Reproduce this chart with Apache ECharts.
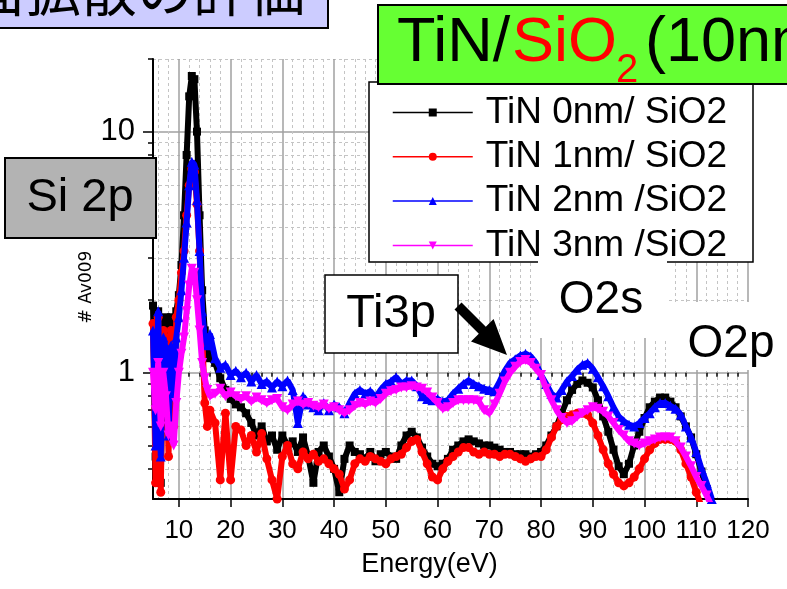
<!DOCTYPE html>
<html><head><meta charset="utf-8">
<script src="https://cdn.jsdelivr.net/npm/echarts@6/dist/echarts.min.js"></script>
<style>html,body{margin:0;padding:0;background:#fff}#c{width:787px;height:589px}</style>
</head><body><div id="c"></div><script>
// Energy (eV) sample positions
const energy = [5,5.5,6,6.5,7,7.5,8,8.5,9,9.5,10,10.5,11,11.5,12,12.5,13,13.5,14,14.5,15,15.5,16,
17,18,19,20,21,22,23,24,25,26,27,28,29,30,31,32,33,34,35,36,37,38,39,40,41,42,43,44,45,46,
47,48,49,50,51,52,53,54,55,56,57,58,59,60,61,62,63,64,65,66,67,68,69,70,71,72,73,74,75,76,
77,78,79,80,81,82,83,84,85,86,87,88,89,90,91,92,93,94,95,96,97,98,99,100,101,102,103,104,105,106,
107,108,109,110,111,112,113];

const tin0 = [1.9,0.45,1.8,0.35,1.6,1.7,1.2,1.7,1.5,1.8,2.1,2.8,4.5,8,14,17,16.5,10,4.5,2.2,1.5,1.25,1.15,
1.1,0.95,0.85,0.78,0.74,0.72,0.68,0.62,0.55,0.6,
0.52,0.55,0.48,0.55,0.5,0.52,0.47,0.54,0.45,0.35,
0.47,0.5,0.45,0.4,0.32,0.44,0.5,0.47,0.46,0.44,
0.47,0.43,0.46,0.47,0.45,0.44,0.5,0.55,0.57,0.54,
0.49,0.45,0.42,0.41,0.42,0.44,0.48,0.5,0.52,0.53,
0.52,0.51,0.5,0.5,0.49,0.48,0.47,0.47,0.46,0.46,
0.46,0.45,0.46,0.47,0.5,0.55,0.6,0.68,0.77,0.85,
0.9,0.93,0.91,0.87,0.77,0.66,0.57,0.48,0.41,0.38,
0.42,0.5,0.57,0.65,0.72,0.76,0.79,0.79,0.76,0.72,
0.66,0.6,0.54,0.46,0.39,0.33,0.28];

const tin1 = [1.6,0.35,1.7,0.32,1.5,1.4,0.45,1.5,0.6,1.7,2.0,2.6,3.2,4.5,6,7,6.8,5,3.2,1.5,0.75,0.6,0.7,
0.62,0.36,0.68,0.36,0.6,0.58,0.5,0.55,0.47,0.56,
0.44,0.36,0.3,0.45,0.5,0.42,0.4,0.47,0.44,0.46,
0.43,0.44,0.42,0.4,0.38,0.33,0.36,0.42,0.44,0.43,
0.45,0.44,0.43,0.42,0.44,0.45,0.46,0.49,0.52,0.53,
0.47,0.42,0.37,0.36,0.4,0.43,0.45,0.47,0.49,0.49,
0.47,0.46,0.47,0.46,0.46,0.45,0.46,0.46,0.45,0.44,
0.43,0.44,0.45,0.45,0.48,0.54,0.6,0.64,0.66,0.67,
0.68,0.68,0.67,0.62,0.55,0.48,0.42,0.38,0.35,0.34,
0.35,0.37,0.4,0.44,0.48,0.51,0.53,0.53,0.53,0.52,
0.48,0.42,0.37,0.32,0.28,null,null];

const tin2 = [1.5,0.5,1.8,0.45,1.4,1.25,0.55,1.3,0.8,1.4,1.7,2.2,3,4.2,6,7.5,7.3,5.2,3.2,1.8,1.4,1.3,1.45,
1.15,1.05,1.08,0.98,1.02,0.96,1.0,0.92,0.98,0.9,
0.92,0.87,0.92,0.88,0.93,0.85,0.62,0.8,0.74,0.72,
0.7,0.75,0.7,0.74,0.72,0.68,0.75,0.82,0.85,0.82,
0.84,0.79,0.85,0.9,0.92,0.96,0.9,0.93,0.93,0.88,
0.8,0.78,0.77,0.78,0.76,0.77,0.82,0.86,0.9,0.93,
0.9,0.88,0.86,0.85,0.84,0.92,1.02,1.1,1.14,1.18,
1.2,1.17,1.1,0.98,0.9,0.82,0.79,0.85,0.92,0.97,
1.03,1.08,1.1,1.04,0.96,0.88,0.8,0.72,0.66,0.63,
0.61,0.6,0.62,0.65,0.68,0.72,0.75,0.75,0.73,0.71,
0.67,0.6,0.54,0.47,0.4,0.35,0.3];

const tin3 = [1.0,0.7,1.1,0.6,1.0,0.8,0.55,0.6,0.5,0.75,1.0,1.2,1.4,1.8,2.3,2.7,2.6,2.0,1.5,1.1,0.95,0.85,0.8,
0.82,0.86,0.8,0.83,0.8,0.78,0.8,0.76,0.79,0.77,
0.75,0.77,0.78,0.72,0.7,0.74,0.76,0.74,0.75,0.73,
0.72,0.74,0.71,0.72,0.7,0.68,0.7,0.73,0.75,0.74,
0.76,0.75,0.78,0.82,0.84,0.85,0.87,0.87,0.88,0.87,
0.86,0.83,0.79,0.75,0.71,0.72,0.75,0.77,0.77,0.77,
0.77,0.76,0.7,0.68,0.74,0.82,0.92,1.0,1.06,1.11,
1.13,1.1,1.04,0.98,0.86,0.77,0.7,0.65,0.62,0.63,
0.66,0.68,0.7,0.72,0.71,0.69,0.66,0.62,0.58,0.55,
0.52,0.51,0.5,0.51,0.52,0.53,0.54,0.54,0.54,0.52,
0.49,0.45,0.41,0.37,0.34,0.31,0.28];

const seriesNames = ['TiN 0nm/ SiO2','TiN 1nm/ SiO2','TiN 2nm /SiO2','TiN 3nm /SiO2'];
const xMajorTicks = [10,20,30,40,50,60,70,80,90,100,110,120];
const xMinorTicks = [6,8,12,14,16,18,22,24,26,28,32,34,36,38,42,44,46,48,52,54,56,58,62,64,66,68,
72,74,76,78,82,84,86,88,92,94,96,98,102,104,106,108,112,114,116,118];
const yMajorTicks = [1,10];
const yMinorTicks = [0.4,0.5,0.6,0.7,0.8,0.9,2,3,4,5,6,7,8,9,20];
const yMin = 0.3, yMax = 20, xMin = 5, xMax = 120;

function pairs(vals){ const out=[]; vals.forEach((v,i)=>{ if(v!=null) out.push([energy[i],v]); }); return out; }

const chart = echarts.init(document.getElementById('c'), null, {renderer:'canvas'});
const FONT = 'Liberation Sans, Arial, sans-serif';
const lmin = Math.log10(yMin), lmax = Math.log10(yMax);

const styles = [
  {color:'#000000', symbol:'rect', size:8, rot:0},
  {color:'#ff0000', symbol:'circle', size:9, rot:0},
  {color:'#0000ff', symbol:'triangle', size:10, rot:0},
  {color:'#ff00ff', symbol:'triangle', size:10, rot:180}
];
const dataSets = [tin0, tin1, tin2, tin3];

const option = {
  animation:false,
  backgroundColor:'#ffffff',
  textStyle:{fontFamily:FONT},
  grid:{left:153, right:39, top:59, bottom:90, containLabel:false, outerBoundsMode:'none'},
  xAxis:[
    {type:'value', min:xMin, max:xMax, position:'bottom',
     name:'Energy(eV)', nameLocation:'middle', nameGap:52,
     nameTextStyle:{fontSize:27, color:'#000', fontFamily:FONT, padding:[0,42,0,0]},
     axisLine:{show:true, onZero:false, lineStyle:{color:'#000', width:2}},
     axisTick:{show:true, inside:false, length:8, customValues:xMajorTicks, lineStyle:{color:'#000', width:1.5}},
     axisLabel:{show:true, customValues:xMajorTicks, fontSize:26, color:'#000', margin:19, fontFamily:FONT},
     splitLine:{show:true, lineStyle:{color:'#a0a0a0', width:1.5}}},
    {type:'value', min:xMin, max:xMax, position:'bottom', offset:0,
     axisLine:{show:false},
     axisTick:{show:true, inside:false, length:4, customValues:xMinorTicks, lineStyle:{color:'#000', width:1.5}},
     axisLabel:{show:false},
     splitLine:{show:true, lineStyle:{color:'#c4c4c4', width:1, type:[3,3]}}}
  ],
  yAxis:[
    {type:'log', logBase:10, min:yMin, max:yMax, position:'left',
     name:'# Av009', nameLocation:'middle', nameRotate:90, nameGap:58,
     nameTextStyle:{fontSize:17, color:'#000', fontFamily:'DejaVu Sans, sans-serif', padding:[0,16,0,0]},
     axisLine:{show:true, onZero:false, lineStyle:{color:'#000', width:2}},
     axisTick:{show:false}, axisLabel:{show:false}, splitLine:{show:false}, minorTick:{show:false}},
    {type:'value', min:lmin, max:lmax, position:'left', offset:0,
     axisLine:{show:false},
     axisTick:{show:true, inside:false, length:10, customValues:yMajorTicks.map(Math.log10), lineStyle:{color:'#000', width:1.5}},
     axisLabel:{show:true, customValues:yMajorTicks.map(Math.log10), fontSize:31, color:'#000', margin:18, fontFamily:FONT,
       formatter:function(v){ return String(Math.round(Math.pow(10, v))); }},
     splitLine:{show:true, lineStyle:{color:'#a0a0a0', width:1.5}}},
    {type:'value', min:lmin, max:lmax, position:'left', offset:0,
     axisLine:{show:false},
     axisTick:{show:true, inside:false, length:5, customValues:yMinorTicks.map(Math.log10), lineStyle:{color:'#000', width:1.5}},
     axisLabel:{show:false},
     splitLine:{show:true, lineStyle:{color:'#c4c4c4', width:1, type:[3,3]}}}
  ],
  legend:{
    show:true, orient:'vertical', left:392, top:94, padding:0, itemGap:7.3,
    itemWidth:80, itemHeight:10, z:8,
    lineStyle:{width:1.5},
    textStyle:{fontSize:37, lineHeight:36, color:'#000', fontFamily:FONT, padding:[0,0,0,8]},
    data:seriesNames
  },
  series: dataSets.map((d,i)=>({
    name:seriesNames[i], type:'line', xAxisIndex:0, yAxisIndex:0,
    data:pairs(d), showSymbol:true, showAllSymbol:true, symbol:styles[i].symbol,
    symbolSize:styles[i].size, symbolRotate:styles[i].rot,
    itemStyle:{color:styles[i].color, borderWidth:0},
    lineStyle:{color:styles[i].color, width:6},
    clip:true, z:2+i
  })),
  graphic:[
    // lavender title box (cut off at top)
    {type:'rect', z:10, shape:{x:-5, y:-12, width:333, height:40}, style:{fill:'#ccccff', stroke:'#000', lineWidth:2}},
    {type:'text', z:11, x:305, y:18, style:{text:'界面拡散の評価', fontSize:56, fontFamily:'Noto Sans CJK JP', fill:'#000', align:'right', verticalAlign:'bottom'}},
    // legend frame
    {type:'rect', z:6, shape:{x:369, y:82, width:384, height:180}, style:{fill:'#ffffff', stroke:'#000', lineWidth:1.5}},
    // green title box
    {type:'rect', z:12, shape:{x:378, y:5, width:430, height:79}, style:{fill:'#66ff33', stroke:'#000', lineWidth:2}},
    {type:'text', z:13, x:397, y:44, style:{text:'TiN/', fontSize:63, fontFamily:FONT, fill:'#000', align:'left', verticalAlign:'middle'}},
    {type:'text', z:13, x:512, y:44, style:{text:'SiO', fontSize:63, fontFamily:FONT, fill:'#ff0000', align:'left', verticalAlign:'middle'}},
    {type:'text', z:13, x:616, y:71, style:{text:'2', fontSize:40, fontFamily:FONT, fill:'#ff0000', align:'left', verticalAlign:'middle'}},
    {type:'text', z:13, x:645, y:44, style:{text:'(10nm', fontSize:63, fontFamily:FONT, fill:'#000', align:'left', verticalAlign:'middle'}},
    // Si 2p box
    {type:'rect', z:10, shape:{x:5, y:158, width:151, height:80}, style:{fill:'#b3b3b3', stroke:'#000', lineWidth:2}},
    {type:'text', z:11, x:80, y:198, style:{text:'Si 2p', fontSize:47, fontFamily:FONT, fill:'#000', align:'center', verticalAlign:'middle'}},
    // Ti3p box
    {type:'rect', z:10, shape:{x:325, y:275, width:133, height:78}, style:{fill:'#ffffff', stroke:'#000', lineWidth:1.5}},
    {type:'text', z:11, x:391, y:314, style:{text:'Ti3p', fontSize:47, fontFamily:FONT, fill:'#000', align:'center', verticalAlign:'middle'}},
    // arrow
    {type:'polygon', z:11, shape:{points:[[461.5,302.5],[485.8,326.8],[493.6,319],[507,355],[471,341.6],[478.8,333.8],[454.5,309.5]]}, style:{fill:'#000'}},
    // O2s and O2p labels on white (above legend frame, below legend text)
    {type:'rect', z:7, shape:{x:538, y:255, width:129, height:83}, style:{fill:'#ffffff'}},
    {type:'text', z:9, x:601, y:300, style:{text:'O2s', fontSize:46, fontFamily:FONT, fill:'#000', align:'center', verticalAlign:'middle'}},
    {type:'rect', z:7, shape:{x:667, y:302, width:125, height:68}, style:{fill:'#ffffff'}},
    {type:'text', z:9, x:731, y:344, style:{text:'O2p', fontSize:46, fontFamily:FONT, fill:'#000', align:'center', verticalAlign:'middle'}}
  ]
};
chart.setOption(option);
</script></body></html>
